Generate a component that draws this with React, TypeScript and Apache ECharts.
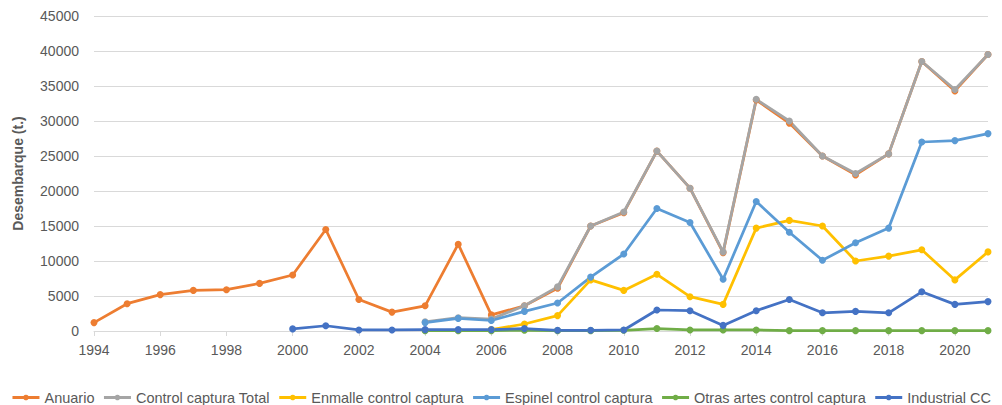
import React, { useEffect, useRef } from "react";
import * as echarts from "echarts";

// Landings per year (t.)
const years: string[] = [
  "1994", "1995", "1996", "1997", "1998", "1999", "2000", "2001", "2002", "2003",
  "2004", "2005", "2006", "2007", "2008", "2009", "2010", "2011", "2012", "2013",
  "2014", "2015", "2016", "2017", "2018", "2019", "2020", "2021",
];

const anuario: (number | null)[] = [
  1200, 3900, 5200, 5800, 5900, 6800, 8000, 14500, 4500, 2700,
  3600, 12400, 2300, 3600, 6100, 15000, 16900, 25700, 20400, 11200,
  33000, 29700, 25000, 22300, 25300, 38500, 34300, 39500,
];

const controlTotal: (number | null)[] = [
  null, null, null, null, null, null, null, null, null, null,
  1300, 1900, 1700, 3600, 6300, 15000, 17000, 25700, 20400, 11300,
  33100, 30000, 25000, 22500, 25300, 38500, 34500, 39500,
];

const enmalle: (number | null)[] = [
  null, null, null, null, null, null, null, null, null, null,
  null, null, 200, 1000, 2200, 7300, 5800, 8100, 4900, 3800,
  14700, 15800, 15000, 10000, 10700, 11600, 7300, 11300,
];

const espinel: (number | null)[] = [
  null, null, null, null, null, null, null, null, null, null,
  1200, 1800, 1500, 2800, 4000, 7700, 11000, 17500, 15500, 7400,
  18500, 14100, 10100, 12600, 14700, 27000, 27200, 28200,
];

const otrasArtes: (number | null)[] = [
  null, null, null, null, null, null, null, null, null, null,
  50, 50, 50, 100, 50, 50, 100, 350, 150, 150,
  150, 50, 50, 50, 50, 50, 50, 50,
];

const industrialCC: (number | null)[] = [
  null, null, null, null, null, null, 300, 750, 150, 150,
  200, 200, 200, 350, 100, 100, 150, 3000, 2900, 800,
  2900, 4500, 2600, 2800, 2600, 5600, 3800, 4200,
];

const seriesDefs: { name: string; data: (number | null)[]; color: string }[] = [
  { name: "Anuario", data: anuario, color: "#ED7D31" },
  { name: "Control captura Total", data: controlTotal, color: "#A5A5A5" },
  { name: "Enmalle control captura", data: enmalle, color: "#FFC000" },
  { name: "Espinel control captura", data: espinel, color: "#5B9BD5" },
  { name: "Otras artes control captura", data: otrasArtes, color: "#70AD47" },
  { name: "Industrial CC", data: industrialCC, color: "#4472C4" },
];

const FONT = "'Liberation Sans', Arial, sans-serif";
const TEXT = "#595959";
const GRID = "#D9D9D9";

export default function App() {
  const ref = useRef<HTMLDivElement>(null);

  useEffect(() => {
    if (!ref.current) return;
    const chart = echarts.init(ref.current, undefined, { renderer: "svg" });
    chart.setOption({
      animation: false,
      backgroundColor: "#FFFFFF",
      textStyle: { fontFamily: FONT, color: TEXT },
      grid: { left: 94, right: 14, top: 16, bottom: 74, containLabel: false },
      xAxis: {
        type: "category",
        data: years,
        boundaryGap: false,
        axisLine: { show: true, lineStyle: { color: GRID, width: 1 } },
        axisTick: { show: true, interval: 1, length: 5, lineStyle: { color: GRID } },
        axisLabel: { interval: 1, margin: 12, fontSize: 14, color: TEXT, fontFamily: FONT },
        splitLine: { show: false },
      },
      yAxis: {
        type: "value",
        min: 0,
        max: 45000,
        interval: 5000,
        name: "Desembarque (t.)",
        nameLocation: "middle",
        nameGap: 69,
        nameTextStyle: { fontSize: 14, fontWeight: "bold", color: TEXT, fontFamily: FONT },
        axisLine: { show: false },
        axisTick: { show: false },
        axisLabel: {
          margin: 15,
          fontSize: 14,
          color: TEXT,
          fontFamily: FONT,
          formatter: (v: number) => String(v),
        },
        splitLine: { show: true, lineStyle: { color: GRID, width: 1 } },
      },
      legend: {
        left: "center",
        top: 390,
        padding: 0,
        itemWidth: 27,
        itemHeight: 7,
        itemGap: 8,
        lineStyle: { width: 3 },
        textStyle: { fontSize: 14.5, color: TEXT, fontFamily: FONT },
        data: seriesDefs.map((s) => s.name),
      },
      series: seriesDefs.map((s) => ({
        name: s.name,
        type: "line",
        data: s.data,
        connectNulls: false,
        symbol: "circle",
        symbolSize: 7,
        showSymbol: true,
        color: s.color,
        lineStyle: { color: s.color, width: 2.75 },
        itemStyle: { color: s.color },
        emphasis: { disabled: true },
      })),
    });
    return () => {
      chart.dispose();
    };
  }, []);

  return (
    <div
      ref={ref}
      style={{ position: "fixed", left: 0, top: 0, width: 1002, height: 405 }}
    />
  );
}
